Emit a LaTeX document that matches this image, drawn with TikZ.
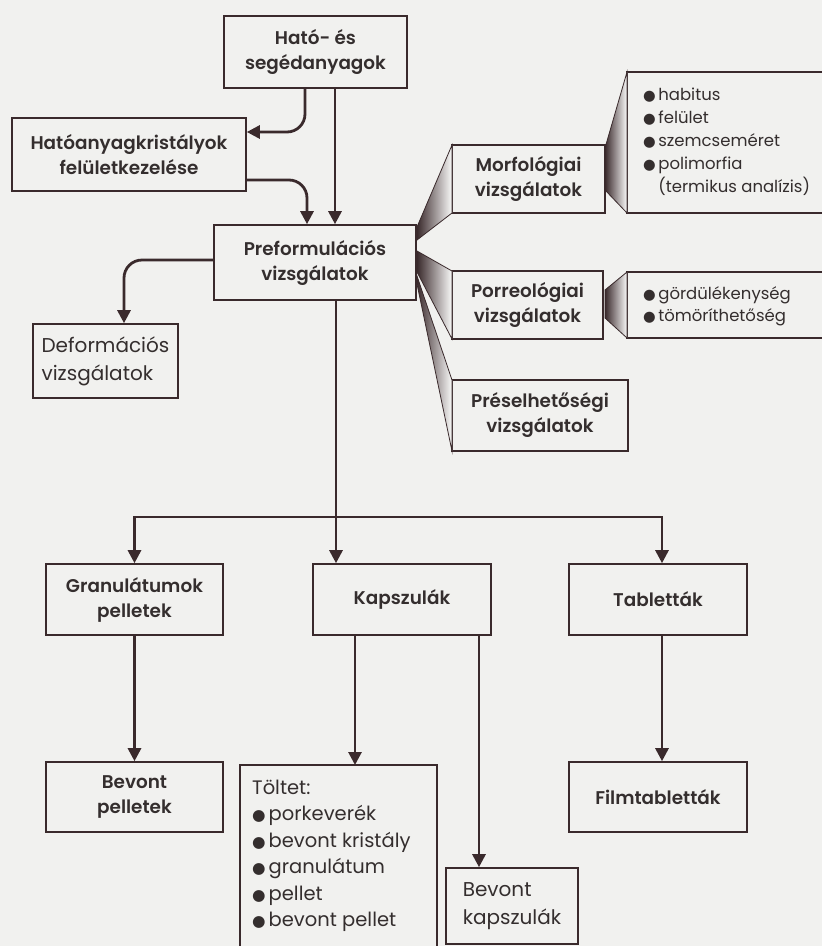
\documentclass[tikz,border=0pt]{standalone}
\usepackage{fontspec}
\setmainfont{Poppins}[BoldFont={Poppins SemiBold}]
\newfontfamily\djv{DejaVu Sans}
\usetikzlibrary{arrows.meta}
\definecolor{ink}{RGB}{58,42,44}
\definecolor{txt}{RGB}{52,46,46}
\definecolor{bgc}{RGB}{241,241,239}
\newcommand\bl{{\djv\fontsize{14.5}{14.5}\selectfont ●}\hspace{2.5pt}}
\newcommand\blb{{\djv\fontsize{15.5}{15.5}\selectfont ●}\hspace{3pt}}
\begin{document}
\begin{tikzpicture}[x=1pt,y=-1pt,
  box/.style={draw=ink, line width=1.6pt, inner sep=0pt, align=center, text=txt,
    font=\bfseries\fontsize{18.4}{25}\selectfont},
  rbox/.style={box, font=\fontsize{20}{28}\selectfont, align=left},
  lst/.style={inner sep=0pt, align=left, text=txt, anchor=west},
  frame/.style={draw=ink, line width=1.6pt},
  arr/.style={draw=ink, line width=2.8pt, -{Triangle[width=13pt,length=13pt]}},
  fan/.style={left color=ink, right color=bgc!40!white, draw=ink, line width=0.8pt}]
\fill[bgc] (0,0) rectangle (822,946);
\useasboundingbox (0,0) rectangle (822,946);

% boxes
\node[box, minimum width=183, minimum height=72] (hato) at (315.5,52) {Ható- és\\segédanyagok};
\node[box, minimum width=234, minimum height=73] (hak) at (129,154.5) {Hatóanyagkristályok\\felületkezelése};
\node[box, minimum width=202, minimum height=75] (pre) at (315,262.5) {Preformulációs\\vizsgálatok};
\node[rbox, minimum width=145, minimum height=74] (def) at (105.5,361) {Deformációs\\vizsgálatok};
\node[box, minimum width=153, minimum height=68] (morf) at (528.5,179) {Morfológiai\\vizsgálatok};
\node[box, minimum width=151, minimum height=68] (porr) at (527.5,305) {Porreológiai\\vizsgálatok};
\node[box, minimum width=176, minimum height=71] (pres) at (540,415.5) {Préselhetőségi\\vizsgálatok};
\node[box, minimum width=177, minimum height=71] (gran) at (134.5,599.5) {Granulátumok\\pelletek};
\node[box, minimum width=178, minimum height=71] (kap) at (402,599.5) {Kapszulák};
\node[box, minimum width=178, minimum height=71] (tab) at (658,599.5) {Tabletták};
\node[box, minimum width=177, minimum height=70] (bp) at (134.5,797) {Bevont\\pelletek};
\node[box, minimum width=178, minimum height=70] (ftab) at (658,797) {Filmtabletták};
\node[rbox, minimum width=132, minimum height=76] (bk) at (512,906) {Bevont\\kapszulák};

% open frames
\draw[frame] (830,72) -- (627,72) -- (627,213) -- (830,213);
\draw[frame] (830,272) -- (627,272) -- (627,338) -- (830,338);
\draw[frame] (240,960) -- (240,765) -- (437,765) -- (437,960);
\coordinate (b1c) at (643,142);
\coordinate (b2c) at (643,306);
\coordinate (tc) at (252,856);
\node[lst, font=\fontsize{16.5}{23}\selectfont] (b1) at (b1c)
  {\bl habitus\\\bl felület\\\bl szemcseméret\\\bl polimorfia\\\phantom{\bl}(termikus analízis)};
\node[lst, font=\fontsize{16.5}{22}\selectfont] (b2) at (b2c)
  {\bl gördülékenység\\\bl tömöríthetőség};
\node[lst, font=\fontsize{19.5}{26.5}\selectfont] (tol) at (tc)
  {Töltet:\\\blb porkeverék\\\blb bevont kristály\\\blb granulátum\\\blb pellet\\\blb bevont pellet};
\coordinate (tolnorth) at (338.5,765);

% fans
\shade[fan] (417,227) -- (452,145) -- (452,213) -- (417,240) -- cycle;
\shade[fan] (417,251) -- (452,271) -- (452,339) -- (417,272) -- cycle;
\shade[fan] (417,276) -- (452,380) -- (452,451) -- (417,284) -- cycle;
\shade[fan] (605,148) -- (627,72) -- (627,213) -- (605,190) -- cycle;
\shade[fan] (605,290) -- (627,272) -- (627,338) -- (605,318) -- cycle;

% helper coordinates
\coordinate (xa) at (305,0);
\coordinate (xb) at (335,0);
\coordinate (xc) at (307,0);
\coordinate (xd) at (124,0);
\coordinate (xk1) at (355,0);
\coordinate (xk2) at (479,0);
\coordinate (xt) at (662,0);
\coordinate (ya) at (0,132);
\coordinate (yb) at (0,180);
\coordinate (yc) at (0,260);
\coordinate (bus) at (336,517);

% connectors
\draw[arr, rounded corners=18pt] (hato.south -| xa) |- (hak.east |- ya);
\draw[arr] (hato.south -| xb) -- (pre.north -| xb);
\draw[arr, rounded corners=18pt] (hak.east |- yb) -| (pre.north -| xc);
\draw[arr, rounded corners=18pt] (pre.west |- yc) -| (def.north -| xd);
\draw[arr] (pre.south -| bus) -- (kap.north -| bus);
\draw[arr] (bus) -| (gran.north);
\draw[arr] (bus) -| (tab.north -| xt);
\draw[arr] (gran.south) -- (bp.north);
\draw[arr] (kap.south -| xk1) -- (tolnorth -| xk1);
\draw[arr] (kap.south -| xk2) -- (bk.north -| xk2);
\draw[arr] (tab.south -| xt) -- (ftab.north -| xt);
\end{tikzpicture}
\end{document}
